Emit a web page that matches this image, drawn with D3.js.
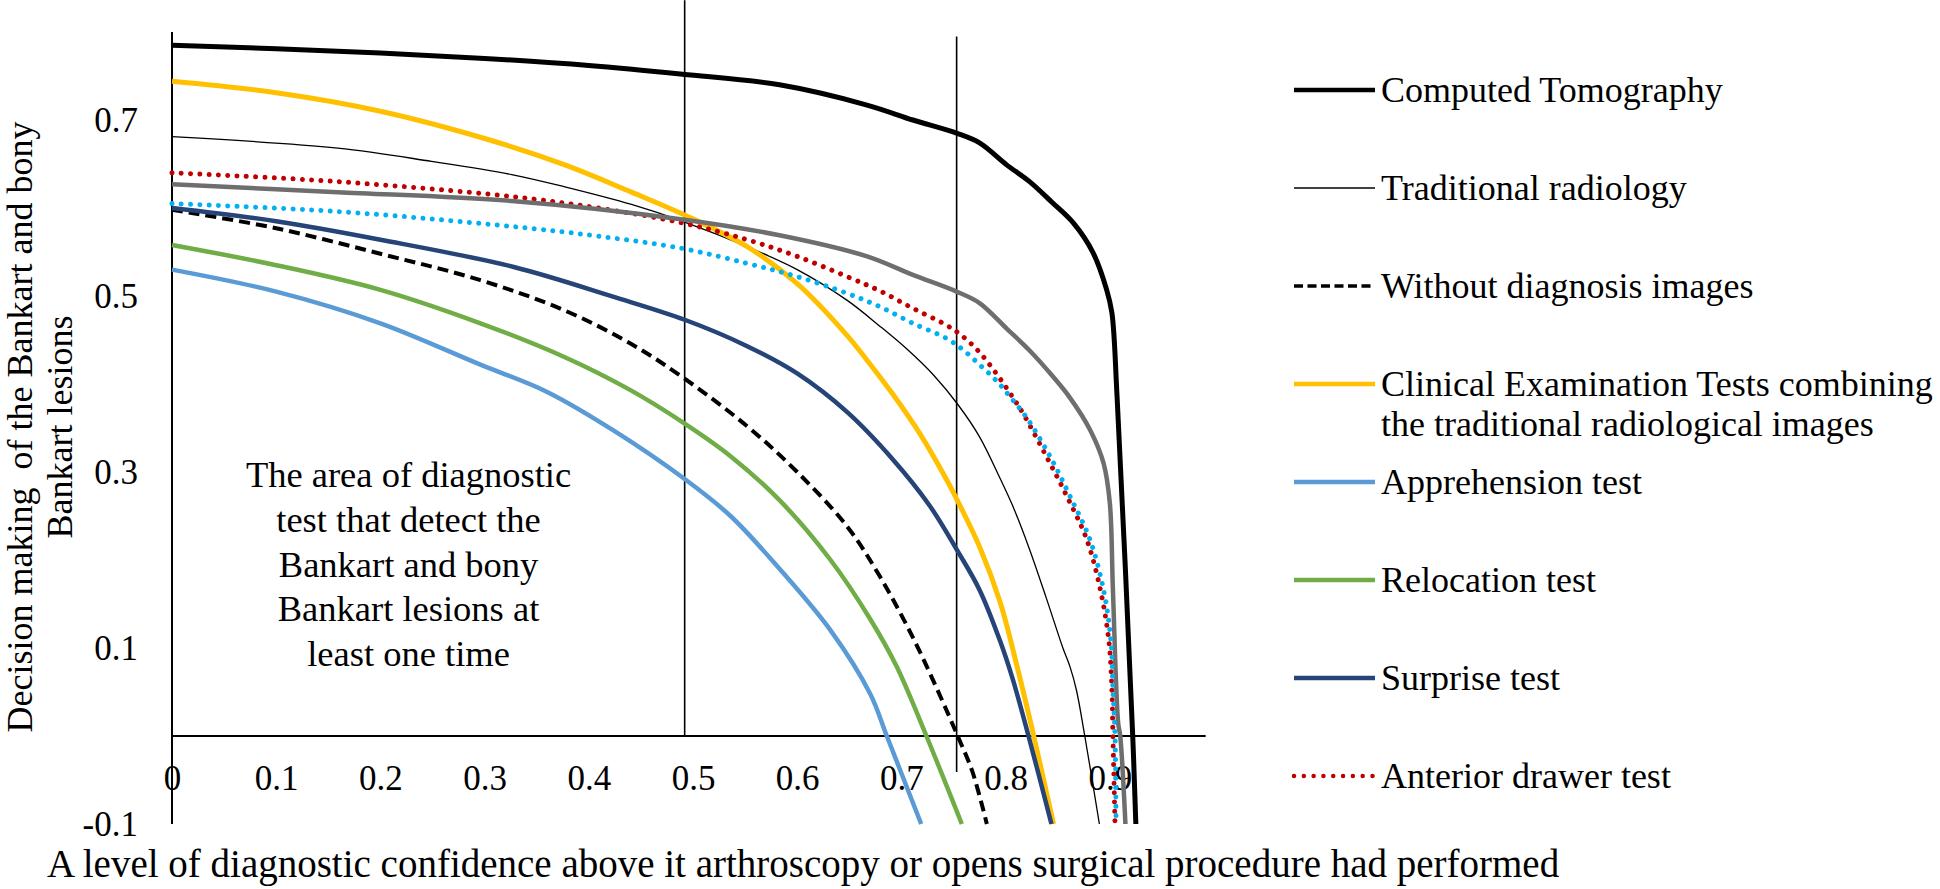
<!DOCTYPE html>
<html><head><meta charset="utf-8">
<script src="https://cdn.jsdelivr.net/npm/d3@7"></script>
<style>
html,body{margin:0;padding:0;background:#fff;}
svg{display:block;}
text{font-family:"Liberation Serif","Times New Roman",Times,serif;fill:#000;}
</style>
</head><body>
<svg id="chart" width="1940" height="889"></svg>
<script>
// ---------- data ----------
const xTicks = [0, 0.1, 0.2, 0.3, 0.4, 0.5, 0.6, 0.7, 0.8, 0.9];
const xTickLabels = ["0", "0.1", "0.2", "0.3", "0.4", "0.5", "0.6", "0.7", "0.8", "0.9"];
const yTicks = [-0.1, 0.1, 0.3, 0.5, 0.7];
const yTickLabels = ["-0.1", "0.1", "0.3", "0.5", "0.7"];

const computedTomography = [[0,0.785],[0.1,0.781],[0.2,0.776],[0.3,0.770],[0.4,0.762],[0.49,0.752],[0.583,0.740],[0.667,0.717],[0.711,0.700],[0.753,0.685],[0.775,0.674],[0.801,0.649],[0.823,0.630],[0.845,0.606],[0.865,0.583],[0.884,0.549],[0.897,0.507],[0.902,0.481],[0.907,0.385],[0.922,0],[0.925,-0.1]];
const traditionalRadiology = [[0,0.681],[0.159,0.668],[0.249,0.653],[0.326,0.638],[0.377,0.624],[0.441,0.604],[0.492,0.584],[0.552,0.556],[0.600,0.530],[0.648,0.495],[0.679,0.466],[0.705,0.440],[0.731,0.410],[0.754,0.377],[0.775,0.340],[0.795,0.292],[0.807,0.261],[0.823,0.212],[0.839,0.157],[0.855,0.100],[0.862,0.078],[0.868,0.052],[0.876,0],[0.890,-0.1]];
const withoutImages = [[0,0.598],[0.1,0.577],[0.2,0.548],[0.296,0.518],[0.376,0.484],[0.440,0.446],[0.492,0.406],[0.552,0.352],[0.600,0.300],[0.648,0.238],[0.679,0.182],[0.711,0.112],[0.737,0.046],[0.754,0.0],[0.768,-0.040],[0.782,-0.1]];
const clinicalCombined = [[0,0.744],[0.1,0.731],[0.2,0.710],[0.3,0.679],[0.377,0.649],[0.441,0.618],[0.492,0.592],[0.552,0.556],[0.600,0.514],[0.648,0.455],[0.667,0.427],[0.692,0.388],[0.718,0.343],[0.743,0.292],[0.754,0.267],[0.775,0.215],[0.795,0.151],[0.811,0.079],[0.827,0],[0.846,-0.1]];
const apprehension = [[0,0.530],[0.1,0.505],[0.2,0.469],[0.296,0.422],[0.360,0.391],[0.424,0.347],[0.492,0.292],[0.536,0.250],[0.583,0.190],[0.632,0.120],[0.670,0.048],[0.686,0],[0.719,-0.1]];
const relocation = [[0,0.558],[0.1,0.535],[0.2,0.507],[0.296,0.469],[0.376,0.431],[0.440,0.393],[0.492,0.355],[0.536,0.318],[0.583,0.268],[0.632,0.200],[0.670,0.133],[0.695,0.080],[0.724,0],[0.758,-0.1]];
const surprise = [[0,0.600],[0.1,0.585],[0.2,0.564],[0.328,0.533],[0.424,0.499],[0.492,0.473],[0.552,0.443],[0.600,0.412],[0.648,0.368],[0.692,0.314],[0.727,0.262],[0.754,0.210],[0.775,0.166],[0.795,0.107],[0.807,0.064],[0.822,0],[0.844,-0.1]];
const anteriorDrawer = [[0,0.640],[0.159,0.630],[0.326,0.613],[0.409,0.600],[0.490,0.583],[0.552,0.564],[0.600,0.545],[0.648,0.522],[0.679,0.506],[0.711,0.486],[0.743,0.467],[0.759,0.454],[0.775,0.436],[0.791,0.412],[0.804,0.390],[0.817,0.366],[0.839,0.318],[0.859,0.272],[0.878,0.223],[0.891,0.166],[0.899,0.109],[0.902,0.052],[0.903,0],[0.905,-0.1]];
const unlabeledGray = [[0,0.627],[0.159,0.618],[0.326,0.608],[0.49,0.587],[0.583,0.569],[0.667,0.545],[0.711,0.524],[0.753,0.505],[0.775,0.492],[0.801,0.463],[0.823,0.438],[0.845,0.409],[0.862,0.384],[0.881,0.348],[0.894,0.310],[0.900,0.265],[0.903,0.166],[0.908,0.015],[0.910,0],[0.915,-0.1]];
const unlabeledLightBlue = [[0,0.605],[0.159,0.596],[0.326,0.579],[0.409,0.568],[0.490,0.554],[0.552,0.537],[0.600,0.522],[0.648,0.503],[0.679,0.488],[0.711,0.469],[0.743,0.452],[0.759,0.439],[0.775,0.422],[0.791,0.404],[0.804,0.386],[0.820,0.362],[0.843,0.317],[0.862,0.272],[0.881,0.223],[0.894,0.166],[0.901,0.109],[0.903,0.052],[0.905,0],[0.906,-0.1]];

const refLineX = [0.492, 0.753];
const refLineTop = [0.836, 0.795];
const refLineBottom = [0, -0.041];

const legendLabels = ["Computed Tomography", "Traditional radiology", "Without diagnosis images",
  ["Clinical Examination Tests combining", "the traditional radiological images"],
  "Apprehension test", "Relocation test", "Surprise test", "Anterior drawer test"];

const annotationLines = ["The area of diagnostic", "test that detect the", "Bankart and bony", "Bankart lesions at", "least one time"];
const annotationAt = [0.227, 0.283];

const yTitleLines = ["Decision making\u00a0 of the Bankart and bony", "Bankart lesions"];
const xTitle = "A level of diagnostic confidence above it arthroscopy or opens surgical procedure had performed";

// ---------- styles ----------
const FONT = '"Liberation Serif","Times New Roman",Times,serif';
const seriesDefs = [
  {data: computedTomography, color:"#000000", width:5, dash:null, cap:"butt", legend:0, lw:4.5},
  {data: traditionalRadiology, color:"#000000", width:1.3, dash:null, cap:"butt", legend:1, lw:1.3},
  {data: withoutImages, color:"#000000", width:4, dash:"11 6", cap:"butt", legend:2, lw:3.5, ldash:"9 4.5"},
  {data: clinicalCombined, color:"#FFC000", width:5, dash:null, cap:"butt", legend:3, lw:4.5},
  {data: apprehension, color:"#5B9BD5", width:4.5, dash:null, cap:"butt", legend:4, lw:4.5},
  {data: relocation, color:"#70AD47", width:4.5, dash:null, cap:"butt", legend:5, lw:4.5},
  {data: surprise, color:"#264478", width:4.5, dash:null, cap:"butt", legend:6, lw:4.5},
  {data: anteriorDrawer, color:"#C00000", width:5, dash:"0.01 9.3", cap:"round", legend:7, lw:4.5, ldash:"0.01 9.8"},
  {data: unlabeledGray, color:"#6E6E6E", width:4.5, dash:null, cap:"butt", legend:-1},
  {data: unlabeledLightBlue, color:"#00B0F0", width:5, dash:"0.01 9.3", cap:"round", legend:-1}
];

// ---------- scales ----------
const svg = d3.select("#chart");
const x = d3.scaleLinear().domain([0, 1]).range([172, 1214]);
const y = d3.scaleLinear().domain([-0.1, 0.8]).range([824, 32]);
const xAxisEnd = 0.992;

// axis lines
svg.append("line").attr("x1", x(0)).attr("x2", x(0)).attr("y1", y(0.8)).attr("y2", y(-0.1))
  .attr("stroke", "#000").attr("stroke-width", 2);
svg.append("line").attr("x1", x(0)).attr("x2", x(xAxisEnd)).attr("y1", y(0)).attr("y2", y(0))
  .attr("stroke", "#000").attr("stroke-width", 2);

// reference vertical lines
refLineX.forEach((v, i) => {
  svg.append("line").attr("x1", x(v)).attr("x2", x(v))
    .attr("y1", y(refLineTop[i])).attr("y2", y(refLineBottom[i]))
    .attr("stroke", "#000").attr("stroke-width", 1.6);
});

// x axis ticks
const xAxis = d3.axisBottom(x).tickValues(xTicks).tickSize(0).tickFormat((d, i) => xTickLabels[i]);
const gx = svg.append("g").attr("transform", `translate(0,${y(0)})`).call(xAxis)
  .attr("font-family", FONT).attr("font-size", 35);
gx.select(".domain").remove();
gx.selectAll("text").attr("y", 54).attr("dy", 0).style("font-size", "35px")
  .style("font-family", FONT).attr("fill", "#000");

// y axis ticks
const yAxis = d3.axisLeft(y).tickValues(yTicks).tickSize(0).tickFormat((d, i) => yTickLabels[i]);
const gy = svg.append("g").attr("transform", `translate(${x(0)},0)`).call(yAxis)
  .attr("font-family", FONT).attr("font-size", 35);
gy.select(".domain").remove();
gy.selectAll("text").attr("x", -34).attr("dy", "0.33em").style("font-size", "35px")
  .style("font-family", FONT).attr("fill", "#000");

// series
const line = d3.line().x(d => x(d[0])).y(d => y(d[1])).curve(d3.curveCatmullRom.alpha(0.5));
seriesDefs.forEach(s => {
  const p = svg.append("path").datum(s.data).attr("d", line)
    .attr("fill", "none").attr("stroke", s.color).attr("stroke-width", s.width)
    .attr("stroke-linecap", s.cap).attr("stroke-linejoin", "round");
  if (s.dash) p.attr("stroke-dasharray", s.dash);
});

// annotation
const ann = svg.append("text").attr("text-anchor", "middle").style("font-size", "36.5px");
annotationLines.forEach((t, i) => {
  ann.append("tspan").attr("x", x(annotationAt[0])).attr("y", y(annotationAt[1]) + i * 44.8).text(t);
});

// axis titles
const yt = svg.append("text").attr("text-anchor", "middle").style("font-size", "36px")
  .attr("transform", `translate(0,427) rotate(-90)`);
yTitleLines.forEach((t, i) => {
  yt.append("tspan").attr("x", 0).attr("y", 32 + i * 40).text(t);
});
svg.append("text").attr("x", 47).attr("y", 877).style("font-size", "39px").text(xTitle);

// legend
const legendX0 = 1294, legendX1 = 1375, legendTextX = 1381, legendTop = 90, legendStep = 98;
seriesDefs.filter(s => s.legend >= 0).forEach(s => {
  const cy = legendTop + s.legend * legendStep;
  const l = svg.append("line").attr("x1", legendX0).attr("x2", legendX1).attr("y1", cy).attr("y2", cy)
    .attr("stroke", s.color).attr("stroke-width", s.lw).attr("stroke-linecap", s.cap);
  if (s.ldash) l.attr("stroke-dasharray", s.ldash);
  const lab = legendLabels[s.legend];
  const t = svg.append("text").style("font-size", "36px");
  if (Array.isArray(lab)) {
    lab.forEach((ln, j) => t.append("tspan").attr("x", legendTextX).attr("y", cy + 11.5 + j * 40).text(ln));
  } else {
    t.attr("x", legendTextX).attr("y", cy + 11.5).text(lab);
  }
});
</script>
</body></html>
